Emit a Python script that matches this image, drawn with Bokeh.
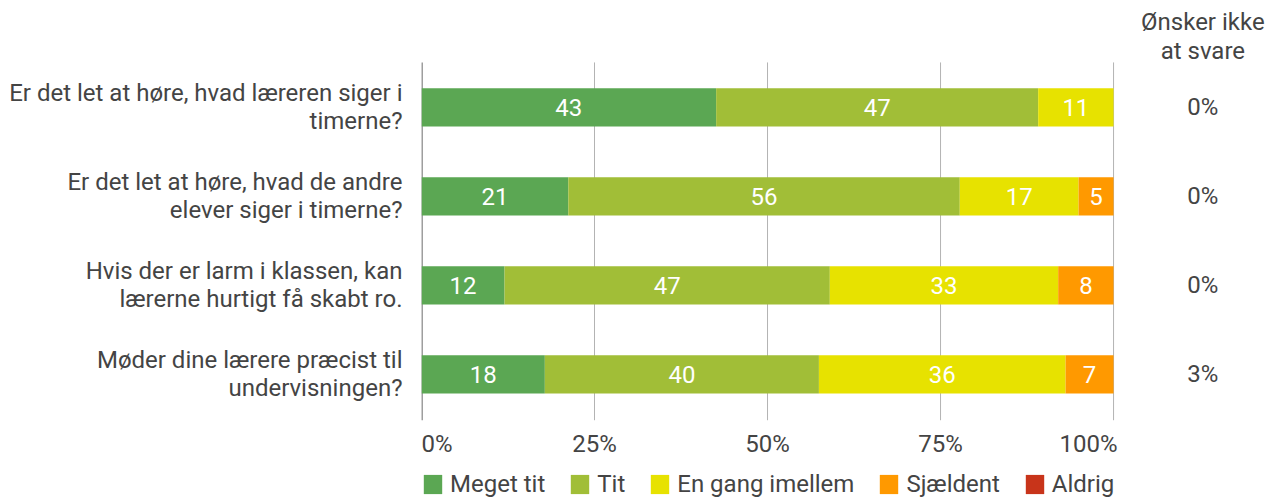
from bokeh.plotting import figure
from bokeh.models import Range1d, FixedTicker, ColumnDataSource
from bokeh.core.properties import value
from bokeh.embed import file_html
from bokeh.resources import INLINE

questions = [
    "Er det let at høre, hvad læreren siger i\ntimerne?",
    "Er det let at høre, hvad de andre\nelever siger i timerne?",
    "Hvis der er larm i klassen, kan\nlærerne hurtigt få skabt ro.",
    "Møder dine lærere præcist til\nundervisningen?",
]
categories = ["Meget tit", "Tit", "En gang imellem", "Sjældent", "Aldrig"]
meget_tit = [43, 21, 12, 18]
tit = [47, 56, 47, 40]
en_gang_imellem = [11, 17, 33, 36]
sjaeldent = [0, 5, 8, 7]
aldrig = [0, 0, 0, 0]
oensker_ikke = ["0%", "0%", "0%", "3%"]
oensker_header = "Ønsker ikke\nat svare"
x_ticks = [0, 25, 50, 75, 100]
x_tick_labels = ["0%", "25%", "50%", "75%", "100%"]
colors = ["#5ba753", "#a1be37", "#e7e200", "#ff9900", "#c8341a"]

TEXT = "#444444"
FONT = "Roboto"
FS = "24px"

series = [meget_tit, tit, en_gang_imellem, sjaeldent, aldrig]
rows = list(range(len(questions)))
totals = [sum(s[i] for s in series) for i in rows]
cols = [f"c{k}" for k in range(len(series))]
data = {"row": rows}
for k, s in enumerate(series):
    data[cols[k]] = [s[i] / totals[i] * 100 for i in rows]
source = ColumnDataSource(data)

# frame spans from the value axis to the right edge, full height
p = figure(width=1266, height=500, output_backend="svg", toolbar_location=None,
           x_range=Range1d(0, 122.1), y_range=Range1d(4.416, -1.202),
           min_border_left=421, min_border_right=0, min_border_top=0,
           min_border_bottom=0)
p.outline_line_color = None
p.background_fill_color = "white"
p.xaxis.visible = False
p.xgrid.visible = False
p.ygrid.visible = False

y_top, y_bot = rows[0] - 0.506, rows[-1] + 0.514

# grid lines and value axis line
p.segment(x0=x_ticks[1:], x1=x_ticks[1:], y0=[y_top] * 4, y1=[y_bot] * 4,
          line_color="#b3b3b3", line_width=1)
p.segment(x0=[x_ticks[0]], x1=[x_ticks[0]], y0=[y_top], y1=[y_bot],
          line_color="#9e9e9e", line_width=3)

p.hbar_stack(cols, y="row", height=0.43, color=colors, line_width=0,
             source=source, legend_label=categories)

# segment labels
lx, ly, lt = [], [], []
for i in rows:
    cum = 0.0
    for k, s in enumerate(series):
        w = data[cols[k]][i]
        if s[i] > 0:
            lx.append(cum + w / 2)
            ly.append(i)
            lt.append(str(s[i]))
        cum += w
p.text(x=lx, y=ly, text=lt, text_color="white", text_font=value(FONT),
       text_font_size=FS, text_align="center", text_baseline="middle")

# value tick labels (first left-justified, last right-justified)
aligns = ["left"] + ["center"] * (len(x_ticks) - 2) + ["right"]
offs = [0] + [0] * (len(x_ticks) - 2) + [4]
p.text(x=x_ticks, y=[rows[-1] + 0.78] * len(x_ticks), text=x_tick_labels,
       text_align=aligns, x_offset=offs, text_baseline="middle",
       text_font=value(FONT), text_font_size=FS, text_color=TEXT)

# right column
xr = 112.9
p.text(x=[xr], y=[rows[0] - 0.80], text=[oensker_header], text_align="center",
       text_baseline="middle", text_font=value(FONT), text_font_size=FS,
       text_color=TEXT, text_line_height=1.05)
p.text(x=[xr] * len(rows), y=rows, text=oensker_ikke, text_align="center",
       text_baseline="middle", text_font=value(FONT), text_font_size=FS,
       text_color=TEXT)

# category axis
p.yaxis.ticker = FixedTicker(ticks=rows)
p.yaxis.major_label_overrides = {i: q for i, q in zip(rows, questions)}
p.yaxis.major_label_text_font = FONT
p.yaxis.major_label_text_font_size = FS
p.yaxis.major_label_text_color = TEXT
p.yaxis.major_label_text_line_height = 1.0
p.yaxis.major_label_standoff = 19
p.yaxis.major_tick_line_color = None
p.yaxis.minor_tick_line_color = None
p.yaxis.major_tick_in = 0
p.yaxis.major_tick_out = 0
p.yaxis.axis_line_color = None

leg = p.legend[0]
leg.location = (0, 2)
leg.orientation = "horizontal"
leg.padding = 0
leg.margin = 0
leg.spacing = 23
leg.label_standoff = 6
leg.glyph_width = 23
leg.glyph_height = 24
leg.label_text_font = FONT
leg.label_text_font_size = FS
leg.label_text_color = TEXT
leg.border_line_color = None
leg.background_fill_alpha = 0

open("out.html", "w").write(file_html(p, INLINE))
